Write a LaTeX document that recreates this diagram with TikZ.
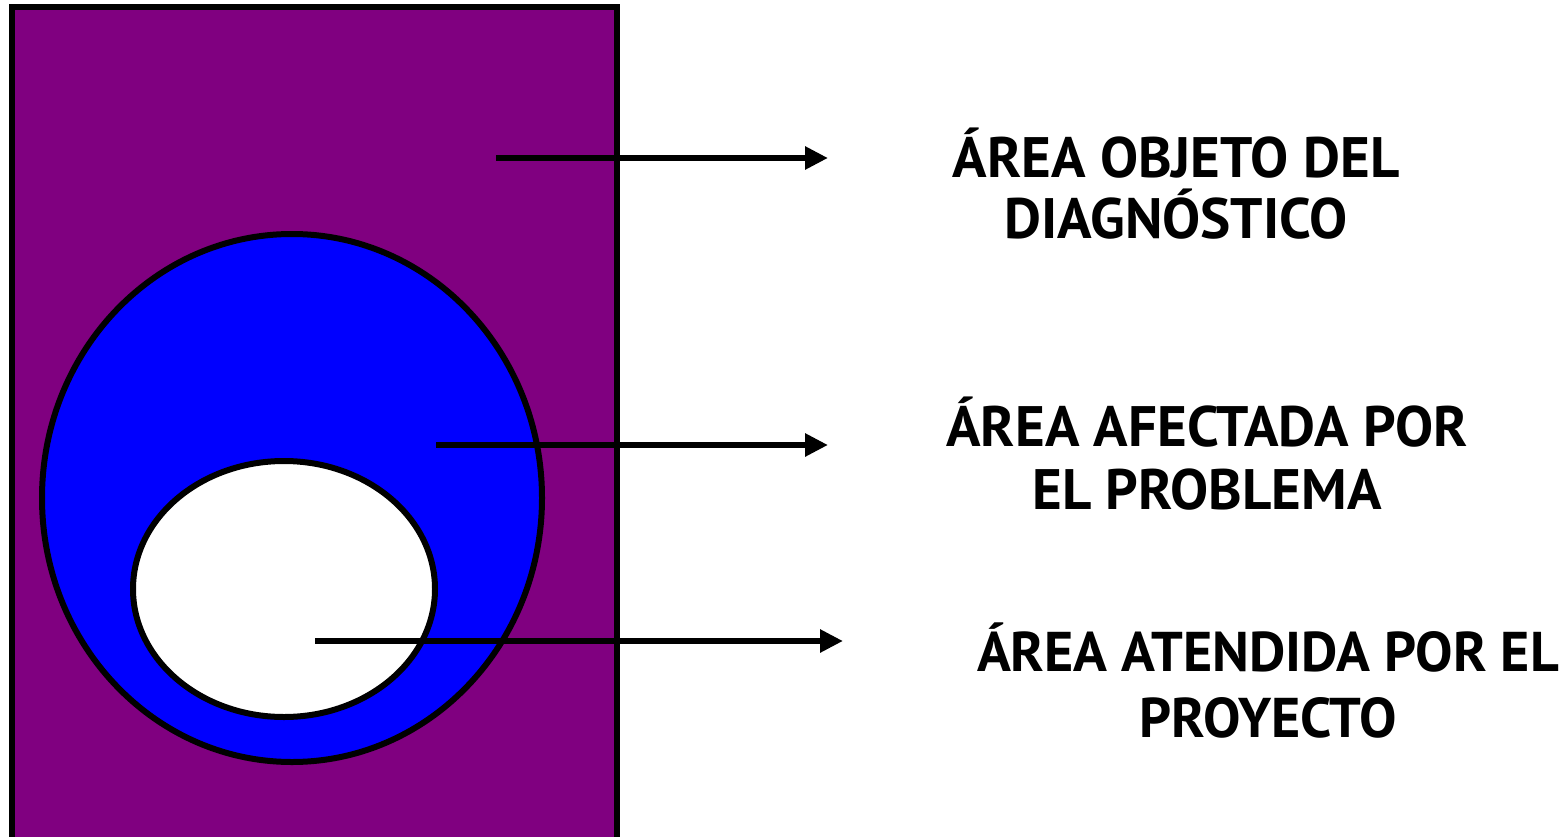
\documentclass[tikz,border=0pt]{standalone}
\usepackage{fontspec}
\setmainfont{PT Sans}
\usetikzlibrary{arrows.meta,shapes.geometric}
\definecolor{areapurple}{HTML}{800080}
\definecolor{areablue}{HTML}{0000FF}
\begin{document}
\begin{tikzpicture}[x=1pt,y=-1pt,
  outline/.style={draw=black,line width=6pt},
  pointer/.style={line width=6pt,-{Triangle[length=23pt,width=22pt]}},
  label/.style={font=\fontsize{57}{62}\selectfont\bfseries,align=center,inner sep=0pt,anchor=base}]
\useasboundingbox (0,0) rectangle (1562,837);
\fill[white] (0,0) rectangle (1562,837);
\node[outline,fill=areapurple,rectangle,minimum width=605pt,minimum height=840pt,inner sep=0pt,anchor=north west] (frame) at (9,4) {};
\node[outline,fill=areablue,ellipse,minimum width=500pt,minimum height=528pt,inner sep=0pt] (affected) at (292,498) {};
\node[outline,fill=white,ellipse,minimum width=302pt,minimum height=256pt,inner sep=0pt] (served) at (284,589) {};
\coordinate (s1) at (496,158);
\coordinate (e1) at (828,158);
\coordinate (s2) at (436,445);
\coordinate (e2) at (828,445);
\coordinate (s3) at (315,641);
\coordinate (e3) at (843,641);
\draw[pointer] (s1) -- (e1);
\draw[pointer] (s2) -- (e2);
\draw[pointer] (s3) -- (e3);
\node[label,font=\fontsize{57}{61}\selectfont\bfseries] (t1) at (1176,238) {ÁREA OBJETO DEL\\DIAGNÓSTICO};
\node[label,font=\fontsize{57}{63}\selectfont\bfseries] (t2) at (1207,509) {ÁREA AFECTADA POR\\EL PROBLEMA};
\node[label,font=\fontsize{56}{66}\selectfont\bfseries] (t3) at (1268,737) {ÁREA ATENDIDA POR EL\\PROYECTO};
\end{tikzpicture}
\end{document}
